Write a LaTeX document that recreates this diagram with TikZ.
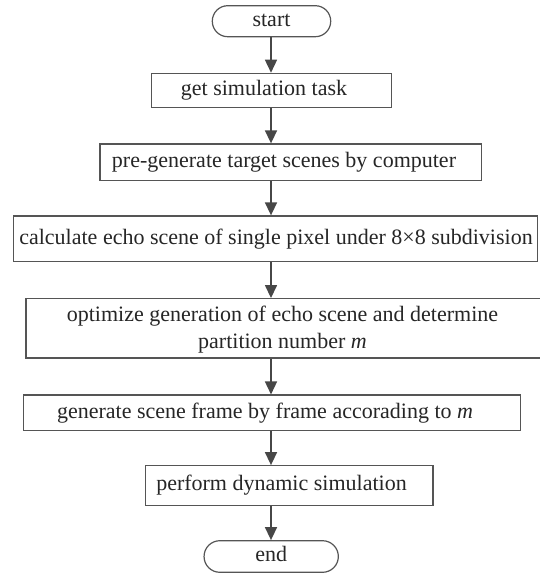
\documentclass[tikz,border=0pt]{standalone}
\usepackage{fontspec}
\setmainfont{Liberation Serif}
\usetikzlibrary{arrows.meta}
\definecolor{linec}{HTML}{555555}
\definecolor{arrc}{HTML}{474747}
\definecolor{txtc}{HTML}{262626}
\begin{document}
\begin{tikzpicture}[x=1pt,y=-1pt,
  box/.style={draw=linec, line width=1.2pt, fill=white, inner sep=0pt},
  term/.style={box, rounded corners=15.4pt},
  lbl/.style={text=txtc, font=\fontsize{22}{27}\selectfont, inner sep=0pt, align=center},
  one/.style={lbl, text height=15.4pt, text depth=4.6pt},
  arr/.style={draw=arrc, line width=1.5pt, -{Triangle[length=13pt,width=12pt]}}]
\useasboundingbox (0,0) rectangle (539,573);
\fill[white] (0,0) rectangle (539,573);
\coordinate (axis) at (271,0);
% boxes
\node[term, minimum width=118.4pt, minimum height=31pt] (start) at (271.5,21.2) {};
\node[box, minimum width=239.6pt, minimum height=34pt] (get) at (271.5,90.3) {};
\node[box, minimum width=381.3pt, minimum height=36.7pt] (pre) at (290.7,162.3) {};
\node[box, minimum width=524.4pt, minimum height=45.7pt] (calc) at (275.5,238.8) {};
\node[box, minimum width=515pt, minimum height=59.3pt] (opt) at (283.5,328.3) {};
\node[box, minimum width=497.4pt, minimum height=35.3pt] (gen) at (272,412.7) {};
\node[box, minimum width=287.7pt, minimum height=39.6pt] (perf) at (289.2,485.5) {};
\node[term, minimum width=134.3pt, minimum height=31.6pt, rounded corners=15.8pt] (end) at (271.2,556.5) {};
% texts
\node[one] (tstart) at (271.5,21.2) {start};
\node[one] (tget) at (264,90.3) {get simulation task};
\node[one] (tpre) at (284,162.3) {pre-generate target scenes by computer};
\node[one] (tcalc) at (276,238.8) {calculate echo scene of single pixel under 8×8 subdivision};
\node[lbl] (topt) at (282.5,329.4) {optimize generation of echo scene and determine\\partition number \textit{m}};
\node[one] (tgen) at (265,412.7) {generate scene frame by frame accorading to \textit{m}};
\node[one] (tperf) at (281.5,485.5) {perform dynamic simulation};
\node[one] (tend) at (271.2,556.5) {end};
% connectors
\draw[arr] (start.south -| axis) -- (get.north -| axis);
\draw[arr] (get.south -| axis) -- (pre.north -| axis);
\draw[arr] (pre.south -| axis) -- (calc.north -| axis);
\draw[arr] (calc.south -| axis) -- (opt.north -| axis);
\draw[arr] (opt.south -| axis) -- (gen.north -| axis);
\draw[arr] (gen.south -| axis) -- (perf.north -| axis);
\draw[arr] (perf.south -| axis) -- (end.north -| axis);
\end{tikzpicture}
\end{document}
